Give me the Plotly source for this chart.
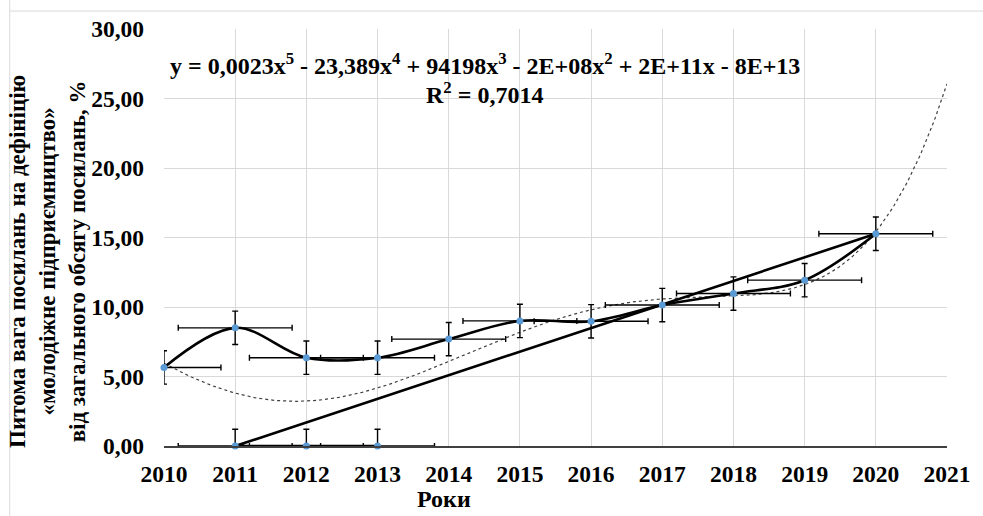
import numpy as np
import plotly.graph_objects as go

# Share of citations referring to the "youth entrepreneurship" definition, %
years = [2010, 2011, 2012, 2013, 2014, 2015, 2016, 2017, 2018, 2019, 2020, 2011, 2012, 2013]
shares = [5.65, 8.50, 6.35, 6.35, 7.69, 9.00, 8.97, 10.14, 10.97, 11.93, 15.27, 0.0, 0.0, 0.0]

y_error = 1.2      # fixed vertical error bar
x_error = 0.8      # fixed horizontal error bar

equation_line = ("y = 0,0023x<sup>5</sup> - 23,389x<sup>4</sup> + 94198x<sup>3</sup> "
                 "- 2E+08x<sup>2</sup> + 2E+11x - 8E+13")
r2_line = "R<sup>2</sup> = 0,7014"
y_title_lines = ["Питома вага посилань на дефініцію",
                 "«молодіжне підприємництво»",
                 "від загального обсягу посилань, %"]
x_title = "Роки"

FONT = "Liberation Serif"

# 5th-degree polynomial trend, projected one year forward
xs = np.array(years, dtype=float) - 2010
coef = np.polyfit(xs, np.array(shares), 5)
trend_x = np.linspace(0, 11, 400)
trend_y = np.polyval(coef, trend_x)

# smoothed part of the series runs through the yearly values 2010-2020,
# the rest of the series is joined by straight segments
n_smooth = 11

fig = go.Figure()

fig.add_trace(go.Scatter(
    x=trend_x + 2010, y=trend_y, mode="lines",
    line=dict(color="#404040", width=1.2, dash="dot"),
    hoverinfo="skip", showlegend=False,
))

fig.add_trace(go.Scatter(
    x=years[:n_smooth], y=shares[:n_smooth], mode="lines",
    line=dict(color="black", width=2.6, shape="spline", smoothing=1),
    hoverinfo="skip", showlegend=False,
))

fig.add_trace(go.Scatter(
    x=years[n_smooth - 1:], y=shares[n_smooth - 1:], mode="lines",
    line=dict(color="black", width=2.6),
    hoverinfo="skip", showlegend=False,
))

fig.add_trace(go.Scatter(
    x=years, y=shares, mode="markers",
    marker=dict(color="#5B9BD5", size=7),
    error_y=dict(type="constant", value=y_error, color="black", thickness=1.4, width=3),
    error_x=dict(type="constant", value=x_error, color="black", thickness=1.4, width=3),
    cliponaxis=False, showlegend=False,
))

bold = dict(family=FONT, weight="bold", color="black")

annotations = [
    dict(text=equation_line, x=0.4095, y=0.916, font=dict(size=24, **bold)),
    dict(text=r2_line, x=0.4095, y=0.846, font=dict(size=24, **bold)),
    dict(text=x_title, x=0.358, y=-0.127, font=dict(size=24, **bold)),
    dict(text="<br>".join(y_title_lines), x=-0.1495, y=0.4436, textangle=-90,
         font=dict(size=23, **bold)),
]
for a in annotations:
    a.update(xref="paper", yref="paper", showarrow=False,
             xanchor="center", yanchor="middle", align="center")

fig.update_layout(
    width=983, height=516,
    margin=dict(l=164, r=23, t=29, b=70),
    paper_bgcolor="white", plot_bgcolor="white",
    separators=", ",
    font=dict(family=FONT, color="black"),
    xaxis=dict(
        range=[2010, 2021], dtick=1, tick0=2010, tickformat="d",
        showgrid=True, gridcolor="#d9d9d9", gridwidth=1,
        showline=True, linecolor="#404040", linewidth=1.5,
        ticks="", ticklabelstandoff=6, ticklabeloverflow="allow", zeroline=False,
        tickfont=dict(size=23.5, **bold),
    ),
    yaxis=dict(
        range=[0, 30], dtick=5, tickformat=".2f",
        showgrid=True, gridcolor="#d9d9d9", gridwidth=1,
        showline=False, zeroline=False,
        ticks="", ticklabelstandoff=19, ticklabeloverflow="allow",
        tickfont=dict(size=23.5, **bold),
    ),
    shapes=[
        dict(type="path", xref="paper", yref="paper",
             path="M -0.197,1.30 L -0.197,1.043 L 1.05,1.043",
             line=dict(color="#d9d9d9", width=1)),
        dict(type="line", xref="paper", yref="paper",
             x0=-0.197, x1=-0.197, y0=1.043, y1=-0.2,
             line=dict(color="#d9d9d9", width=1)),
    ],
    annotations=annotations,
)

fig.write_html("out.html")
